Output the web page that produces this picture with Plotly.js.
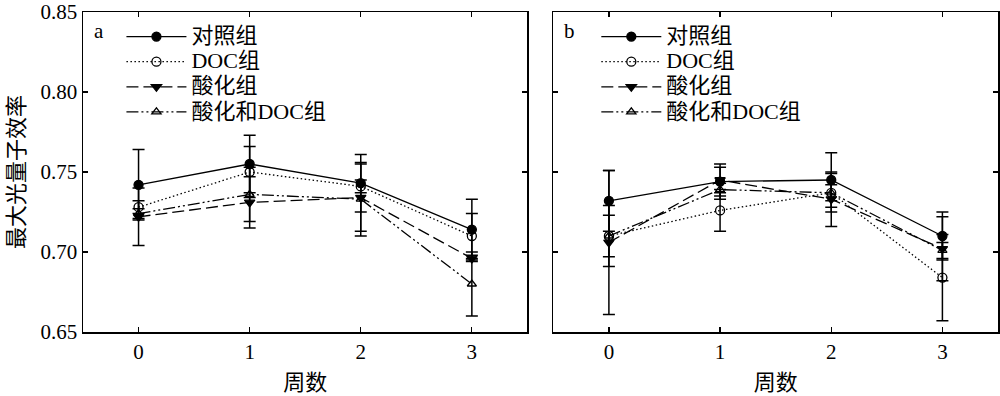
<!DOCTYPE html>
<html>
<head>
<meta charset="utf-8">
<script src="https://cdn.plot.ly/plotly-3.0.1.min.js"></script>
<style>
html,body{margin:0;padding:0;background:#fff;}
#chart{width:1000px;height:396px;}
</style>
</head>
<body>
<div id="chart"></div>
<script>
const weeks = [0, 1, 2, 3];
const seriesNames = ['对照组', 'DOC组', '酸化组', '酸化和DOC组'];

const aControl = [0.742, 0.755, 0.743, 0.714];
const aControlErr = [0.022, 0.018, 0.018, 0.019];
const aDoc = [0.728, 0.750, 0.741, 0.710];
const aDocErr = [0.004, 0.016, 0.004, 0.014];
const aAcid = [0.722, 0.731, 0.734, 0.696];
const aAcidErr = [0.018, 0.016, 0.021, 0.002];
const aAcidDoc = [0.724, 0.736, 0.733, 0.680];
const aAcidDocErr = [0.003, 0.017, 0.023, 0.020];

const bControl = [0.732, 0.744, 0.745, 0.710];
const bControlErr = [0.019, 0.011, 0.017, 0.015];
const bDoc = [0.710, 0.726, 0.737, 0.684];
const bDocErr = [0.013, 0.013, 0.005, 0.027];
const bAcid = [0.706, 0.745, 0.733, 0.702];
const bAcidErr = [0.045, 0.008, 0.017, 0.020];
const bAcidDoc = [0.710, 0.739, 0.737, 0.701];
const bAcidDocErr = [0.019, 0.004, 0.012, 0.005];

const yTickVals = [0.65, 0.70, 0.75, 0.80, 0.85];
const yTickText = ['0.65', '0.70', '0.75', '0.80', '0.85'];
const xTickVals = [0, 1, 2, 3];
const xTickText = ['0', '1', '2', '3'];

const styles = [
  {dash: 'solid', symbol: 'circle', size: 9},
  {dash: '1.5px,2.5px', symbol: 'circle-open', size: 9},
  {dash: '12px,5px', symbol: 'triangle-down', size: 9},
  {dash: '12px,3px,2px,3px,2px,3px', symbol: 'triangle-up-open', size: 8}
];

function mk(y, err, i, xa, ya, leg) {
  const s = styles[i];
  return {
    x: weeks, y: y, type: 'scatter', mode: 'lines+markers',
    name: '<span style="font-size:22px">' + seriesNames[i] + '</span>',
    xaxis: xa, yaxis: ya, legend: leg,
    line: {color: '#000', width: 1.3, dash: s.dash},
    marker: {symbol: s.symbol, size: s.size, color: '#000', line: {color: '#000', width: 1.3}},
    error_y: {type: 'data', array: err, visible: true, color: '#000', thickness: 1.5, width: 6}
  };
}

const data = [
  mk(aControl, aControlErr, 0, 'x', 'y', 'legend'),
  mk(aDoc, aDocErr, 1, 'x', 'y', 'legend'),
  mk(aAcid, aAcidErr, 2, 'x', 'y', 'legend'),
  mk(aAcidDoc, aAcidDocErr, 3, 'x', 'y', 'legend'),
  mk(bControl, bControlErr, 0, 'x2', 'y2', 'legend2'),
  mk(bDoc, bDocErr, 1, 'x2', 'y2', 'legend2'),
  mk(bAcid, bAcidErr, 2, 'x2', 'y2', 'legend2'),
  mk(bAcidDoc, bAcidDocErr, 3, 'x2', 'y2', 'legend2')
];

const fontFam = 'Liberation Serif, Noto Sans CJK SC, serif';
const axBase = {
  showline: true, linecolor: '#000', linewidth: 1.5, mirror: 'ticks',
  ticks: 'inside', ticklen: 5, tickwidth: 1.2, tickcolor: '#000',
  showgrid: false, zeroline: false,
  tickfont: {family: fontFam, size: 21, color: '#000'}
};

const legBase = {xanchor: 'left', yanchor: 'top', y: 0.978, bgcolor: 'rgba(0,0,0,0)', borderwidth: 0,
  font: {family: fontFam, size: 17, color: '#000'}, itemwidth: 60, tracegroupgap: 0};

const layout = {
  width: 1000, height: 396,
  margin: {l: 83, r: 2, t: 12, b: 64},
  paper_bgcolor: '#fff', plot_bgcolor: '#fff',
  font: {family: fontFam, size: 20, color: '#000'},
  showlegend: true,
  xaxis: Object.assign({}, axBase, {domain: [0, 0.4857], range: [-0.5, 3.5], tickvals: xTickVals, ticktext: xTickText,
    title: {text: '周数', font: {family: fontFam, size: 22}, standoff: 12}}),
  yaxis: Object.assign({}, axBase, {domain: [0, 1], range: [0.65, 0.85], tickvals: yTickVals, ticktext: yTickText,
    title: {text: '最大光量子效率', font: {family: fontFam, size: 22}, standoff: 10}}),
  xaxis2: Object.assign({}, axBase, {domain: [0.514, 1], range: [-0.5, 3.5], tickvals: xTickVals, ticktext: xTickText, anchor: 'y2',
    title: {text: '周数', font: {family: fontFam, size: 22}, standoff: 12}}),
  yaxis2: Object.assign({}, axBase, {domain: [0, 1], range: [0.65, 0.85], tickvals: yTickVals, showticklabels: false, anchor: 'x2'}),
  legend: Object.assign({}, legBase, {x: 0.042}),
  legend2: Object.assign({}, legBase, {x: 0.561}),
  annotations: [
    {text: 'a', xref: 'paper', yref: 'paper', x: 0.01, y: 0.985, xanchor: 'left', yanchor: 'top', showarrow: false, font: {family: fontFam, size: 21}},
    {text: 'b', xref: 'paper', yref: 'paper', x: 0.523, y: 0.985, xanchor: 'left', yanchor: 'top', showarrow: false, font: {family: fontFam, size: 21}}
  ]
};

Plotly.newPlot('chart', data, layout, {displayModeBar: false, staticPlot: true});
</script>
</body>
</html>
